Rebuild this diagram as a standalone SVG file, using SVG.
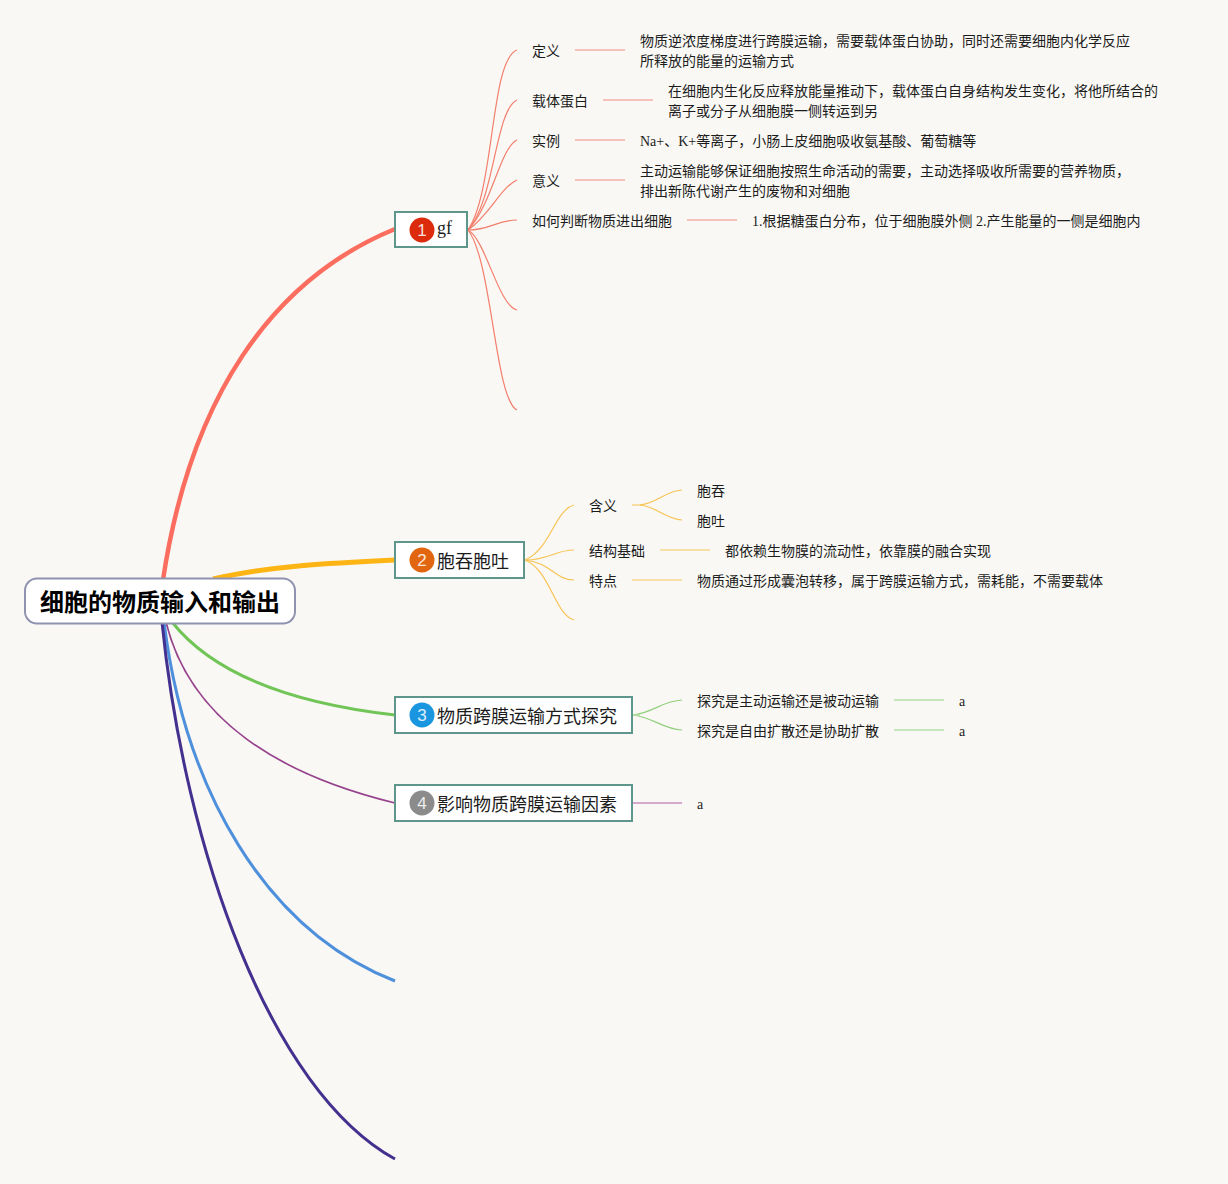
<svg xmlns="http://www.w3.org/2000/svg" width="1228" height="1184" viewBox="0 0 1228 1184">
<style>
text{font-family:"Liberation Serif","Noto Sans CJK SC",sans-serif;fill:#1c1c1c}
.l{font-size:14px}
.t{font-size:18px}
.n{font-family:"Liberation Sans","Noto Sans",sans-serif;font-size:17px;fill:#fff;text-anchor:middle;opacity:.85}
.box{fill:#fff;stroke:#5f968c;stroke-width:2}
.c{fill:none}
.r{stroke:#f47e6c;stroke-width:1.2}
.rs{stroke:#f2b0a4;stroke-width:1.5}
.y{stroke:#f8c456;stroke-width:1.2}
.ys{stroke:#f8d68a;stroke-width:1.5}
.g{stroke:#93d07f;stroke-width:1.2}
.gs{stroke:#b5dea8;stroke-width:1.5}
</style>
<rect width="1228" height="1184" fill="#f9f8f4"/>
<g id="connectors" class="c">
<path d="M163 580C190 400 270 280 395 229" stroke="#fb6e5f" stroke-width="4.500"/>
<path d="M213 579C270 566 330 563 395 560" stroke="#fdb515" stroke-width="5"/>
<path d="M172 622C210 670 280 702 395 715" stroke="#71c557" stroke-width="3"/>
<path d="M166 622C190 720 280 775 395 803" stroke="#96428c" stroke-width="1.800"/>
<path d="M164 622C185 790 265 930 395 981" stroke="#4f90dc" stroke-width="3"/>
<path d="M162 622C185 850 270 1090 395 1159" stroke="#43308f" stroke-width="3"/>
<path class="r" d="M468 230C495 190 490 60 517 50"/>
<path class="r" d="M468 230C495 200 495 110 517 100"/>
<path class="r" d="M468 230C492 205 500 148 517 140"/>
<path class="r" d="M468 230C490 215 500 188 517 180"/>
<path class="r" d="M468 230C490 230 497 220 517 220"/>
<path class="r" d="M468 230C486 240 498 305 517 310"/>
<path class="r" d="M468 230C492 260 495 400 517 410"/>
<path class="rs" d="M575 50H625M603 100H653M575 140H625M575 180H625M687 220H737"/>
<path class="y" d="M525 560C550 550 555 510 574 505"/>
<path class="y" d="M525 560C550 560 555 550 574 550"/>
<path class="y" d="M525 560C550 562 555 580 574 580"/>
<path class="y" d="M525 560C550 570 555 615 574 620"/>
<path class="ys" d="M632 505H642"/>
<path class="y" d="M640 505C658 503 665 491 682 490"/>
<path class="y" d="M640 505C658 507 665 519 682 520"/>
<path class="ys" d="M660 550H710M632 580H682"/>
<path class="g" d="M633 715C655 712 662 701 682 700"/>
<path class="g" d="M633 715C655 718 662 729 682 730"/>
<path class="gs" d="M633 715H640M894 700H944M894 730H944"/>
<path d="M633 803H682" stroke="#c98fc2" stroke-width="1.5"/>
</g>
<g id="root"><rect x="25" y="578.500" width="270" height="45" rx="12" fill="#fff" stroke="#9093b0" stroke-width="2"/>
<text x="160" y="611" text-anchor="middle" font-size="24" font-weight="700" style="fill:#000">细胞的物质输入和输出</text></g>
<g id="topic1"><rect class="box" x="395" y="212" width="72" height="35"/><circle cx="422" cy="230" r="12.500" fill="#dc2a0c"/><text class="n" x="422" y="236">1</text><text class="t" x="437" y="234">gf</text></g>
<g id="topic2"><rect class="box" x="395" y="542" width="129" height="36"/><circle cx="422" cy="560" r="12.500" fill="#e2660f"/><text class="n" x="422" y="566">2</text><text class="t" x="437" y="568">胞吞胞吐</text></g>
<g id="topic3"><rect class="box" x="395" y="697" width="237" height="36"/><circle cx="422" cy="715" r="12.500" fill="#1a96e0"/><text class="n" x="422" y="721">3</text><text class="t" x="437" y="723">物质跨膜运输方式探究</text></g>
<g id="topic4"><rect class="box" x="395" y="785" width="237" height="36"/><circle cx="422" cy="803" r="12.500" fill="#8b8b8b"/><text class="n" x="422" y="809">4</text><text class="t" x="437" y="811">影响物质跨膜运输因素</text></g>
<g id="n1"><text class="l" x="532" y="56">定义</text></g>
<g id="n1a"><text class="l" x="640" y="46">物质逆浓度梯度进行跨膜运输，需要载体蛋白协助，同时还需要细胞内化学反应</text><text class="l" x="640" y="66">所释放的能量的运输方式</text></g>
<g id="n2"><text class="l" x="532" y="106">载体蛋白</text></g>
<g id="n2a"><text class="l" x="668" y="96">在细胞内生化反应释放能量推动下，载体蛋白自身结构发生变化，将他所结合的</text><text class="l" x="668" y="116">离子或分子从细胞膜一侧转运到另</text></g>
<g id="n3"><text class="l" x="532" y="146">实例</text></g>
<g id="n3a"><text class="l" x="640" y="146">Na+、K+等离子，小肠上皮细胞吸收氨基酸、葡萄糖等</text></g>
<g id="n4"><text class="l" x="532" y="186">意义</text></g>
<g id="n4a"><text class="l" x="640" y="176">主动运输能够保证细胞按照生命活动的需要，主动选择吸收所需要的营养物质，</text><text class="l" x="640" y="196">排出新陈代谢产生的废物和对细胞</text></g>
<g id="n5"><text class="l" x="532" y="226">如何判断物质进出细胞</text></g>
<g id="n5a"><text class="l" x="752" y="226">1.根据糖蛋白分布，位于细胞膜外侧 2.产生能量的一侧是细胞内</text></g>
<g id="n6"><text class="l" x="589" y="511">含义</text></g>
<g id="n6a"><text class="l" x="697" y="496">胞吞</text></g>
<g id="n6b"><text class="l" x="697" y="526">胞吐</text></g>
<g id="n7"><text class="l" x="589" y="556">结构基础</text></g>
<g id="n7a"><text class="l" x="725" y="556">都依赖生物膜的流动性，依靠膜的融合实现</text></g>
<g id="n8"><text class="l" x="589" y="586">特点</text></g>
<g id="n8a"><text class="l" x="697" y="586">物质通过形成囊泡转移，属于跨膜运输方式，需耗能，不需要载体</text></g>
<g id="n9"><text class="l" x="697" y="706">探究是主动运输还是被动运输</text></g>
<g id="n9a"><text class="l" x="959" y="706">a</text></g>
<g id="n10"><text class="l" x="697" y="736">探究是自由扩散还是协助扩散</text></g>
<g id="n10a"><text class="l" x="959" y="736">a</text></g>
<g id="n11"><text class="l" x="697" y="809">a</text></g>
</svg>
